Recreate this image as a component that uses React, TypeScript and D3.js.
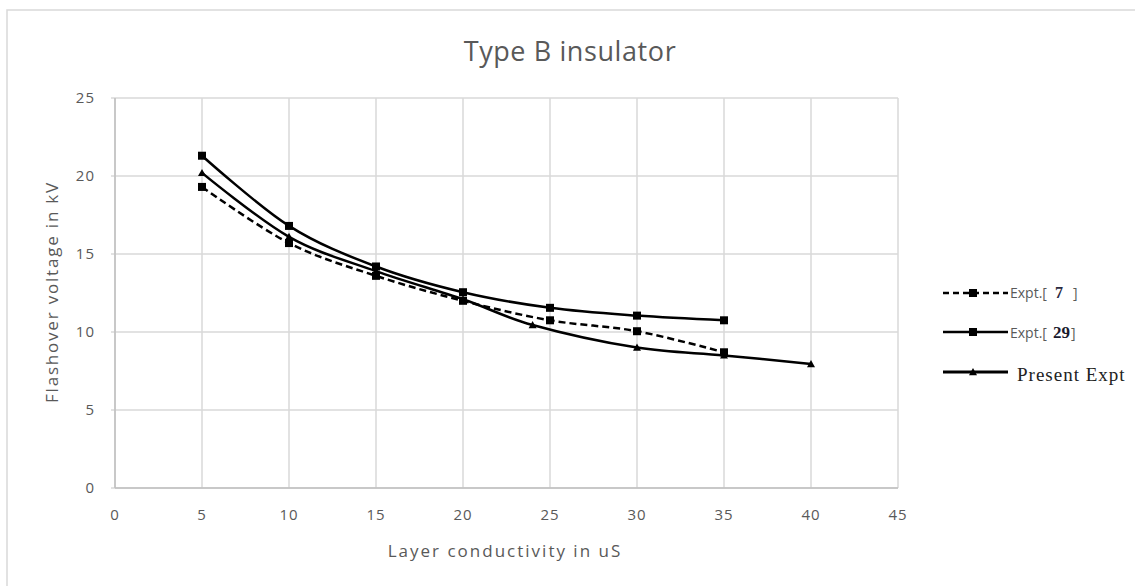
import React from "react";
import * as d3 from "d3";

const xTicks = [0, 5, 10, 15, 20, 25, 30, 35, 40, 45];
const yTicks = [0, 5, 10, 15, 20, 25];

const expt7X = [5, 10, 15, 20, 25, 30, 35];
const expt7Y = [19.3, 15.7, 13.6, 12.0, 10.75, 10.05, 8.7];

const expt29X = [5, 10, 15, 20, 25, 30, 35];
const expt29Y = [21.3, 16.8, 14.2, 12.55, 11.55, 11.05, 10.75];

const presentX = [5, 10, 15, 20, 24, 30, 35, 40];
const presentY = [20.2, 16.1, 13.9, 12.1, 10.45, 9.0, 8.5, 7.95];

const W = 1135;
const H = 586;
const left = 115, right = 898, top = 98, bottom = 488;

export default function App() {
  const x = d3.scaleLinear().domain([0, 45]).range([left, right]);
  const y = d3.scaleLinear().domain([0, 25]).range([bottom, top]);
  const line = d3
    .line<[number, number]>()
    .x((d) => x(d[0]))
    .y((d) => y(d[1]))
    .curve(d3.curveCardinal.tension(0));

  const s7 = expt7X.map((v, i) => [v, expt7Y[i]] as [number, number]);
  const s29 = expt29X.map((v, i) => [v, expt29Y[i]] as [number, number]);
  const sp = presentX.map((v, i) => [v, presentY[i]] as [number, number]);

  const gray = "#595959";
  const grid = "#d9d9d9";
  const font = "'Open Sans', 'Noto Sans', sans-serif";

  const tri = (cx: number, cy: number, r: number) =>
    `M${cx},${cy - r}L${cx + r},${cy + r * 0.8}L${cx - r},${cy + r * 0.8}Z`;

  return (
    <svg
      width={W}
      height={H}
      style={{ position: "absolute", left: 0, top: 0, background: "#fff" }}
    >
      <rect x={7} y={10} width={1140} height={600} fill="#fff" stroke={grid} strokeWidth={1.5} />
      <text
        x={570}
        y={61}
        textAnchor="middle"
        fontFamily={font}
        fontSize={27}
        letterSpacing={0.6}
        fill={gray}
      >
        Type B insulator
      </text>

      {yTicks.map((t) => (
        <g key={"y" + t}>
          <line x1={left} x2={right} y1={y(t)} y2={y(t)} stroke={grid} strokeWidth={1.5} />
          <line x1={left - 4} x2={left} y1={y(t)} y2={y(t)} stroke={grid} strokeWidth={1.5} />
          <text x={left - 20} y={y(t) + 5} textAnchor="end" fontFamily={font} fontSize={15} letterSpacing={1} fill={gray}>
            {t}
          </text>
        </g>
      ))}
      {xTicks.map((t) => (
        <g key={"x" + t}>
          <line x1={x(t)} x2={x(t)} y1={top} y2={bottom} stroke={grid} strokeWidth={1.5} />
          <text x={x(t)} y={bottom + 32} textAnchor="middle" fontFamily={font} fontSize={15} letterSpacing={1} fill={gray}>
            {t}
          </text>
        </g>
      ))}
      <line x1={left} x2={right} y1={bottom} y2={bottom} stroke="#bfbfbf" strokeWidth={1.5} />
      <line x1={left} x2={left} y1={top} y2={bottom} stroke="#bfbfbf" strokeWidth={1.5} />

      <text
        x={505}
        y={557}
        textAnchor="middle"
        fontFamily={font}
        fontSize={17}
        fill={gray}
        letterSpacing={2}
      >
        Layer conductivity in uS
      </text>
      <text
        transform={`translate(58,${292}) rotate(-90)`}
        textAnchor="middle"
        fontFamily={font}
        fontSize={17}
        fill={gray}
        letterSpacing={1.8}
      >
        Flashover voltage in kV
      </text>

      <path d={line(s7) || ""} fill="none" stroke="#000" strokeWidth={2.5} strokeDasharray="7,4" />
      <path d={line(s29) || ""} fill="none" stroke="#000" strokeWidth={2.5} />
      <path d={line(sp) || ""} fill="none" stroke="#000" strokeWidth={2.5} />

      {s7.map((d, i) => (
        <rect key={"m7" + i} x={x(d[0]) - 4} y={y(d[1]) - 4} width={8} height={8} fill="#000" />
      ))}
      {s29.map((d, i) => (
        <rect key={"m29" + i} x={x(d[0]) - 4} y={y(d[1]) - 4} width={8} height={8} fill="#000" />
      ))}
      {sp.map((d, i) => (
        <path key={"mp" + i} d={tri(x(d[0]), y(d[1]), 4)} fill="#000" />
      ))}

      {/* legend */}
      <g>
        <line x1={943} x2={1008} y1={293} y2={293} stroke="#000" strokeWidth={2.5} strokeDasharray="6,4" />
        <rect x={969} y={289} width={8} height={8} fill="#000" />
        <text x={1010} y={298} fontFamily={font} fontSize={14} fill={gray} letterSpacing={0}>
          Expt.[
          <tspan fontFamily="'Liberation Serif', serif" fontWeight="bold" fontSize={16} fill="#2a2a40" dx={8}>7</tspan>
          <tspan dx={10}>]</tspan>
        </text>

        <line x1={943} x2={1008} y1={332} y2={332} stroke="#000" strokeWidth={2.5} />
        <rect x={969} y={328} width={8} height={8} fill="#000" />
        <text x={1010} y={338} fontFamily={font} fontSize={14} fill={gray} letterSpacing={0}>
          Expt.[
          <tspan fontFamily="'Liberation Serif', serif" fontWeight="bold" fontSize={17} fill="#1a1a2e" dx={6}>29</tspan>
          <tspan dx={1}>]</tspan>
        </text>

        <line x1={943} x2={1008} y1={372} y2={372} stroke="#000" strokeWidth={3} />
        <path d={tri(973, 372, 4)} fill="#000" />
        <text x={1017} y={381} fontFamily="'Liberation Serif', serif" fontSize={19} fill="#222" letterSpacing={1}>
          Present Expt
        </text>
      </g>
    </svg>
  );
}
